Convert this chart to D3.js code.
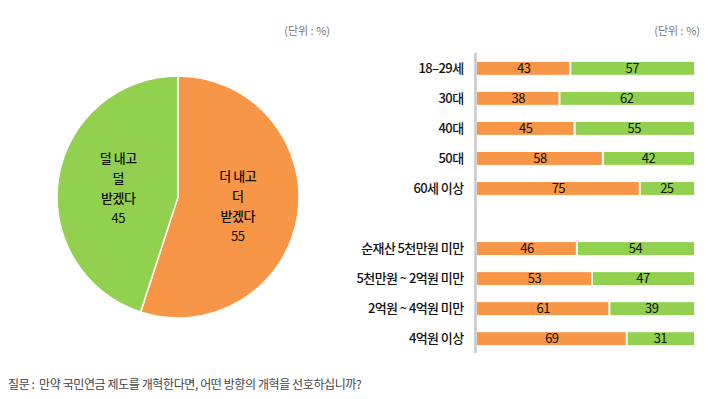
<!DOCTYPE html>
<html>
<head>
<meta charset="utf-8">
<script src="https://cdn.jsdelivr.net/npm/d3@7"></script>
<style>
  body { margin: 0; background: #fff; }
  svg { display: block; font-family: "Noto Sans CJK KR", sans-serif; }
</style>
</head>
<body>
<script>
// pie data
const pieNames = ["더 내고 더 받겠다", "덜 내고 덜 받겠다"];
const pieValues = [55, 45];
const pieLines = [["더 내고", "더", "받겠다"], ["덜 내고", "덜", "받겠다"]];

// bar data (blank category = gap between groups)
const categories = ["18–29세", "30대", "40대", "50대", "60세 이상", "",
    "순재산 5천만원 미만", "5천만원 ~ 2억원 미만", "2억원 ~ 4억원 미만", "4억원 이상"];
const moreValues = [43, 38, 45, 58, 75, null, 46, 53, 61, 69];
const lessValues = [57, 62, 55, 42, 25, null, 54, 47, 39, 31];

const unitLabel = "(단위 : %)";
const note = "질문 :  만약 국민연금 제도를 개혁한다면, 어떤 방향의 개혁을 선호하십니까?";

const colors = ["#F79646", "#92D050"];
const width = 710, height = 399;

const svg = d3.select("body").append("svg")
    .attr("width", width)
    .attr("height", height);

// ---- pie ----
const pieG = svg.append("g").attr("transform", "translate(178,197)");
const radius = 121;
const pie = d3.pie().sort(null).value(d => d);
const arc = d3.arc().innerRadius(0).outerRadius(radius);
const arcs = pie(pieValues);

pieG.selectAll("path")
    .data(arcs)
    .join("path")
    .attr("d", arc)
    .attr("fill", (d, i) => colors[i])
    .attr("stroke", "#fff")
    .attr("stroke-width", 1.5);

const labelArc = d3.arc().innerRadius(radius * 0.5).outerRadius(radius * 0.5);
arcs.forEach((d, i) => {
    const [cx, cy] = labelArc.centroid(d);
    const lines = pieLines[i].concat([String(pieValues[i])]);
    const t = pieG.append("text")
        .attr("text-anchor", "middle")
        .attr("font-size", 13)
        .attr("letter-spacing", -0.5)
        .attr("fill", "#111");
    lines.forEach((s, j) => {
        t.append("tspan")
            .attr("x", cx)
            .attr("y", cy + (j - (lines.length - 1) / 2) * 20 + 5)
            .attr("font-weight", j < 3 ? 500 : 400)
            .text(s);
    });
});

svg.append("text")
    .attr("x", 330).attr("y", 35)
    .attr("text-anchor", "end")
    .attr("font-size", 11)
    .attr("fill", "#777")
    .text(unitLabel);

// ---- stacked bars ----
const x = d3.scaleLinear().domain([0, 100]).range([477, 694]);
const y = d3.scaleBand().domain(categories).range([53.5, 353.5]).paddingInner(0.57).paddingOuter(0.28);

const rows = categories.map((c, i) => ({ c, more: moreValues[i], less: lessValues[i] }))
    .filter(d => d.c !== "");

const barG = svg.append("g");
rows.forEach(d => {
    const segs = [
        { x0: 0, x1: d.more, v: d.more, col: colors[0] },
        { x0: d.more, x1: 100, v: d.less, col: colors[1] }
    ];
    segs.forEach((s, k) => {
        barG.append("rect")
            .attr("x", x(s.x0) + (k ? 1 : 0))
            .attr("y", y(d.c))
            .attr("width", x(s.x1) - x(s.x0) - 1)
            .attr("height", y.bandwidth())
            .attr("fill", s.col);
        barG.append("text")
            .attr("x", (x(s.x0) + x(s.x1)) / 2)
            .attr("y", y(d.c) + y.bandwidth() / 2 + 4.5)
            .attr("text-anchor", "middle")
            .attr("font-size", 13)
            .attr("letter-spacing", -0.5)
            .attr("fill", "#111")
            .text(s.v);
    });
});

// category axis
const yAxis = svg.append("g")
    .attr("transform", "translate(475.5,0)")
    .call(d3.axisLeft(y).tickSize(0).tickPadding(12));
yAxis.select(".domain")
    .attr("d", "M0,53V353")
    .attr("stroke", "#c8c8c8")
    .attr("stroke-width", 2.5);
yAxis.selectAll(".tick text")
    .attr("font-size", 13)
    .attr("font-weight", 500)
    .attr("letter-spacing", -0.6)
    .attr("fill", "#111")
    .attr("font-family", "\"Noto Sans CJK KR\", sans-serif");

svg.append("text")
    .attr("x", 700).attr("y", 35)
    .attr("text-anchor", "end")
    .attr("font-size", 11)
    .attr("fill", "#777")
    .text(unitLabel);

// question note
svg.append("text")
    .attr("x", 8).attr("y", 389)
    .attr("font-size", 12)
    .attr("letter-spacing", -0.4)
    .attr("fill", "#444")
    .attr("xml:space", "preserve")
    .text(note);
</script>
</body>
</html>
